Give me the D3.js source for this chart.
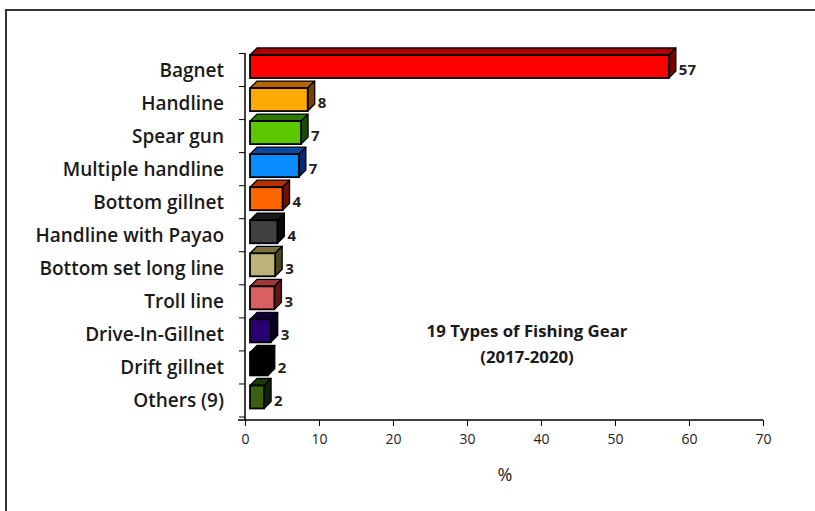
<!DOCTYPE html>
<html><head><meta charset="utf-8">
<script src="https://cdn.jsdelivr.net/npm/d3@7"></script>
<style>body{margin:0;background:#fff;} svg{display:block;}</style>
</head><body>
<svg id="c" width="815" height="511"></svg>
<script>
const categories = ["Bagnet","Handline","Spear gun","Multiple handline","Bottom gillnet","Handline with Payao","Bottom set long line","Troll line","Drive-In-Gillnet","Drift gillnet","Others (9)"];
const values = [56.6, 7.8, 6.9, 6.6, 4.4, 3.7, 3.4, 3.3, 2.8, 2.4, 1.9];
const frontColors = ["#ff0000","#ffaa00","#5cc800","#0a8cff","#ff6600","#404040","#bfb278","#d86060","#2a0070","#000000","#3a6010"];
const topColors   = ["#b00000","#b46400","#2e7a00","#0a4aa0","#b83000","#1a1a1a","#7a7040","#a03838","#10003a","#000000","#1a3a08"];
const sideColors  = ["#780000","#7a4000","#1a4a00","#002a70","#701000","#0a0a0a","#4a4420","#601818","#080020","#000000","#0e2008"];
const xTicks = [0,10,20,30,40,50,60,70];
const titleLines = ["19 Types of Fishing Gear","(2017-2020)"];
const xLabel = "%";

const svg = d3.select("#c");
const font = "'Open Sans', 'Noto Sans', sans-serif";
svg.append("rect").attr("x",6).attr("y",10).attr("width",830).attr("height",530)
  .attr("fill","#fff").attr("stroke","#333").attr("stroke-width",2);

const x = d3.scaleLinear().domain([0,70]).range([245,763]);
const y = d3.scaleBand().domain(categories).range([53.5,417]).padding(0);
const depth = 7, fOff = 5, fh = 23;

const data = categories.map((c,i)=>({c, v: values[i], i}));

const g = svg.append("g");
data.forEach(d=>{
  const cy = y(d.c) + y.bandwidth()/2;
  const x0 = x(0)+fOff, x1 = x(d.v)+fOff;
  const y0 = cy - 15, y1 = y0 + fh;
  g.append("path").attr("d",`M${x0},${y0}L${x0+depth},${y0-depth}L${x1+depth},${y0-depth}L${x1},${y0}Z`)
    .attr("fill",topColors[d.i]).attr("stroke","#000").attr("stroke-width",1.3).attr("stroke-linejoin","round");
  g.append("path").attr("d",`M${x1},${y0}L${x1+depth},${y0-depth}L${x1+depth},${y1-depth}L${x1},${y1}Z`)
    .attr("fill",sideColors[d.i]).attr("stroke","#000").attr("stroke-width",1.3).attr("stroke-linejoin","round");
  g.append("rect").attr("x",x0).attr("y",y0).attr("width",x1-x0).attr("height",fh)
    .attr("fill",frontColors[d.i]).attr("stroke","#000").attr("stroke-width",1.8);
  g.append("text").attr("x",x1+depth+3).attr("y",cy).attr("dy","0.35em")
    .attr("font-family",font).attr("font-weight",700).attr("font-size",15).attr("fill","#222")
    .text(Math.round(d.v));
});

// y axis
const ya = svg.append("g");
ya.append("line").attr("x1",245).attr("x2",245).attr("y1",53).attr("y2",420).attr("stroke","#000").attr("stroke-width",1.5);
categories.forEach((c,k)=>{
  const yy = y(c);
  ya.append("line").attr("x1",239).attr("x2",245).attr("y1",yy).attr("y2",yy).attr("stroke","#000").attr("stroke-width",1);
});
ya.append("line").attr("x1",239).attr("x2",245).attr("y1",417).attr("y2",417).attr("stroke","#000").attr("stroke-width",1);
categories.forEach(c=>{
  ya.append("text").attr("x",224).attr("y",y(c)+y.bandwidth()/2).attr("dy","0.35em").attr("text-anchor","end")
    .attr("font-family",font).attr("font-weight",600).attr("font-size",19).attr("fill","#1a1a1a").text(c);
});

// x axis
const xa = svg.append("g").attr("transform","translate(0,420)")
  .call(d3.axisBottom(x).tickValues(xTicks).tickSize(6).tickSizeOuter(0).tickFormat(d3.format("d")));
xa.select(".domain").attr("stroke","#000").attr("stroke-width",1.5).attr("d","M238,0H763");
xa.selectAll(".tick line").attr("stroke","#000");
xa.selectAll(".tick text").attr("font-family",font).attr("font-size",14).attr("fill","#222").attr("dy","1.1em");

svg.append("text").attr("x",505).attr("y",481).attr("text-anchor","middle")
  .attr("font-family",font).attr("font-size",18).attr("fill","#222").text(xLabel);

titleLines.forEach((t,i)=>{
  svg.append("text").attr("x",527).attr("y",337+i*26).attr("text-anchor","middle")
    .attr("font-family",font).attr("font-weight",700).attr("font-size",16.8).attr("fill","#1a1a1a").text(t);
});
</script>
</body></html>
